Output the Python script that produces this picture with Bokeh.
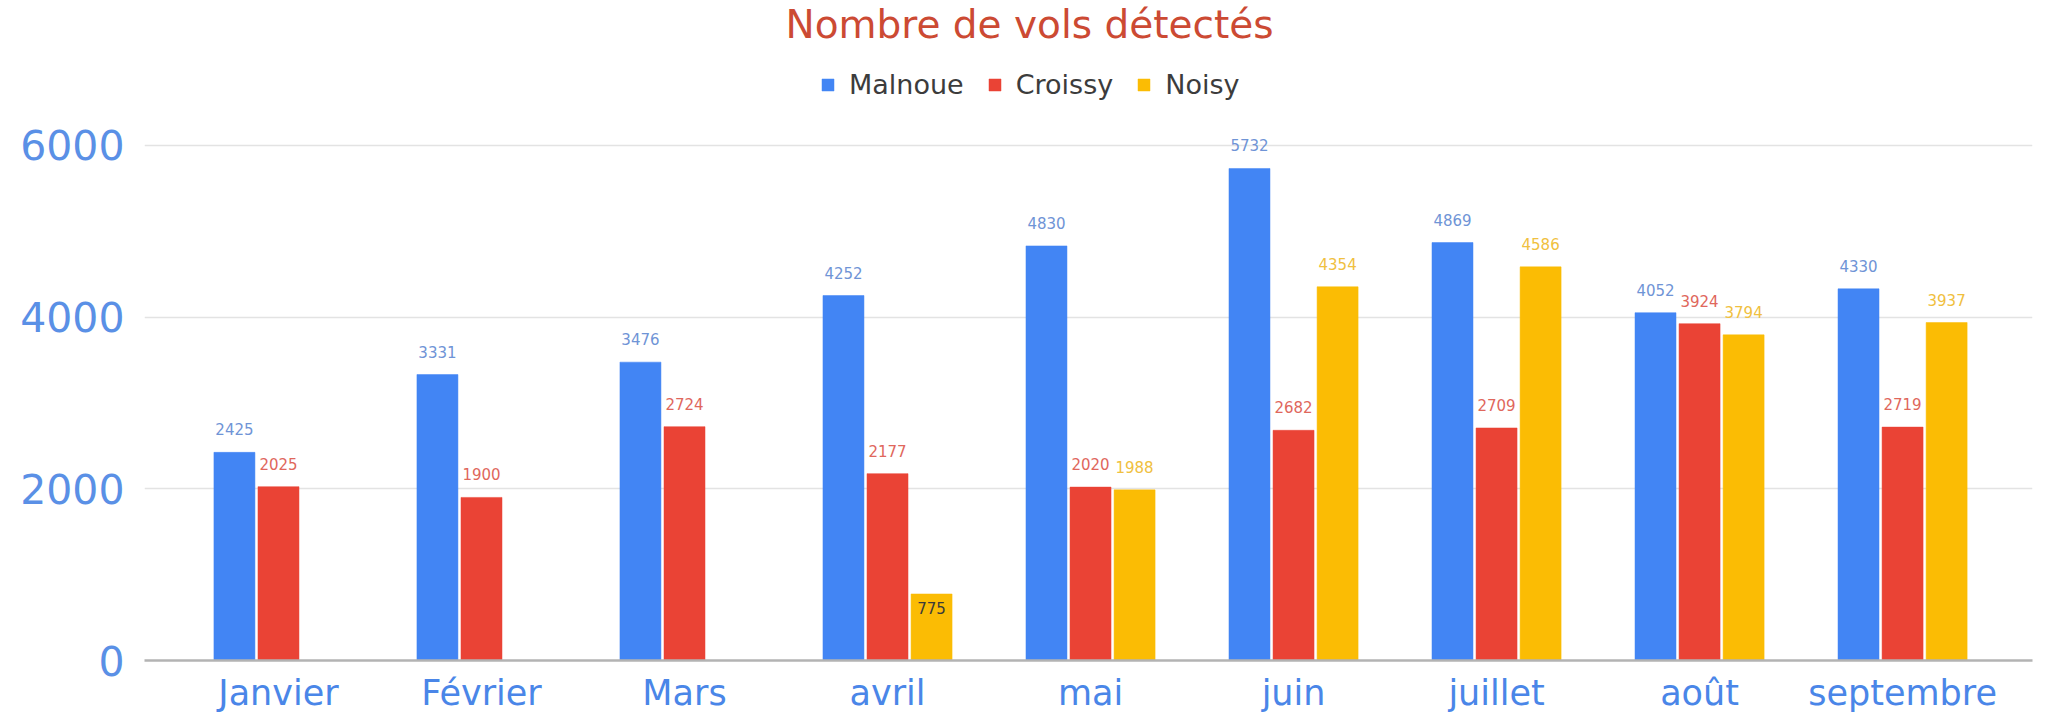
import numpy as np
from bokeh.plotting import figure
from bokeh.models import (ColumnDataSource, Range1d, FixedTicker, LabelSet, Label,
                          Legend, LegendItem)
from bokeh.core.properties import value
from bokeh.transform import dodge
from bokeh.embed import file_html
from bokeh.resources import INLINE

# ---- data ----
months = ["Janvier", "Février", "Mars", "avril", "mai", "juin", "juillet", "août", "septembre"]
malnoue = [2425, 3331, 3476, 4252, 4830, 5732, 4869, 4052, 4330]
croissy = [2025, 1900, 2724, 2177, 2020, 2682, 2709, 3924, 2719]
noisy = [None, None, None, 775, 1988, 4354, 4586, 3794, 3937]
series_names = ["Malnoue", "Croissy", "Noisy"]
title_text = "Nombre de vols détectés"
y_ticks = [0, 2000, 4000, 6000]

bar_colors = ["#4285f4", "#ea4335", "#fbbc04"]
label_colors = ["#6f94d6", "#e0675c", "#f0c040"]
FONT = "DejaVu Sans"

W, H = 2049, 715
p = figure(width=W, height=H, output_backend="svg", toolbar_location=None,
           x_range=Range1d(-0.66, 8.64), y_range=Range1d(0, 7689),
           min_border_left=144, min_border_right=17, min_border_top=0,
           min_border_bottom=55)
p.outline_line_color = None
p.background_fill_color = "white"

idx = list(range(len(months)))
offsets = [-0.217, 0.0, 0.217]
all_vals = [malnoue, croissy, noisy]
renderers = []
for k, vals in enumerate(all_vals):
    tops = [np.nan if v is None else v for v in vals]
    src = ColumnDataSource(dict(x=idx, top=tops))
    r = p.vbar(x=dodge("x", offsets[k], range=p.x_range), top="top", width=0.202,
               source=src, fill_color=bar_colors[k], line_color=bar_colors[k], line_width=0.5)
    renderers.append(r)
    # value labels
    lx, ly, lt, lc, lo = [], [], [], [], []
    for i, v in enumerate(vals):
        if v is None:
            continue
        lx.append(i)
        ly.append(v)
        lt.append(str(v))
        if v < 1000:
            lc.append("#3a3a3a")
            lo.append(-20)
        else:
            lc.append(label_colors[k])
            lo.append(17)
    lsrc = ColumnDataSource(dict(x=lx, y=ly, t=lt, c=lc, o=lo))
    ls = LabelSet(x=dodge("x", offsets[k], range=p.x_range), y="y", text="t", source=lsrc,
                  text_color="c", y_offset="o", text_align="center", text_baseline="bottom",
                  text_font=value(FONT), text_font_size="15px")
    p.add_layout(ls)

# axes
p.yaxis.ticker = FixedTicker(ticks=y_ticks)
p.yaxis.axis_line_color = None
p.yaxis.major_tick_line_color = None
p.yaxis.major_tick_out = 0
p.yaxis.minor_tick_line_color = None
p.yaxis.major_label_text_font = FONT
p.yaxis.major_label_text_font_size = "41px"
p.yaxis.major_label_text_color = "#5a90e6"
p.yaxis.major_label_standoff = 20

p.xaxis.ticker = FixedTicker(ticks=idx)
p.xaxis.major_label_overrides = {i: m for i, m in enumerate(months)}
p.xaxis.axis_line_color = "#b3b3b3"
p.xaxis.axis_line_width = 2.5
p.xaxis.major_tick_line_color = None
p.xaxis.major_tick_out = 0
p.xaxis.major_tick_in = 0
p.xaxis.minor_tick_line_color = None
p.xaxis.major_label_text_font = FONT
p.xaxis.major_label_text_font_size = "35px"
p.xaxis.major_label_text_color = "#4a86e8"
p.xaxis.major_label_standoff = 12

p.xgrid.grid_line_color = None
p.ygrid.grid_line_color = "#e3e3e3"
p.ygrid.grid_line_width = 1.5

# title
p.add_layout(Label(x=885, y=636, x_units="screen", y_units="screen", text=title_text,
                   text_align="center", text_baseline="alphabetic", text_font=FONT,
                   text_font_size="39px", text_color="#cc4a33"))

# legend
legend = Legend(items=[LegendItem(label=series_names[k], renderers=[renderers[k]]) for k in range(3)],
                orientation="horizontal", location=(676, 560), padding=0, margin=0,
                spacing=23, label_standoff=14, glyph_width=15, glyph_height=15,
                label_text_font=FONT, label_text_font_size="27px", label_text_color="#3c3c3c",
                border_line_color=None, background_fill_alpha=0)
p.add_layout(legend)

open("out.html", "w").write(file_html(p, INLINE))
